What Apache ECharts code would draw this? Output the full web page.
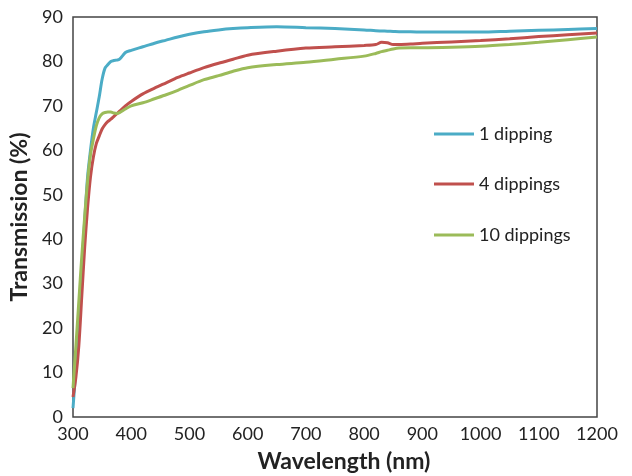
<!DOCTYPE html>
<html>
<head>
<meta charset="utf-8">
<script src="https://cdn.jsdelivr.net/npm/echarts@6/dist/echarts.min.js"></script>
<style>html,body{margin:0;padding:0;background:#fff}#c{width:632px;height:476px}</style>
</head>
<body>
<div id="c"></div>
<script>
var wavelengths = [300,305,310,315,320,325,330,335,340,345,350,355,360,365,370,375,380,390,400,420,440,460,480,500,525,550,575,600,650,700,750,800,820,830,840,850,860,880,900,950,1000,1050,1100,1150,1200];
var dip1 = [2,11,22,33,44,54,60,65,68.5,72,76,78.5,79.3,80,80.2,80.3,80.5,82,82.5,83.3,84.1,84.8,85.5,86.1,86.7,87.1,87.4,87.6,87.8,87.6,87.4,87.1,86.9,86.85,86.8,86.75,86.7,86.7,86.6,86.6,86.6,86.8,87.0,87.2,87.4];
var dip4 = [4.5,9,16,27,38,47,54,58.5,61.5,63.2,64.8,65.8,66.5,67,67.6,68.2,68.8,70,71,72.7,74,75.2,76.4,77.4,78.6,79.6,80.5,81.4,82.3,83,83.3,83.6,83.8,84.3,84.2,83.8,83.8,83.9,84.1,84.4,84.7,85.1,85.6,86.0,86.4];
var dip10 = [6.5,16,26,36,45,53,59,62.5,65.5,67.3,68.2,68.5,68.6,68.6,68.4,68.3,68.5,69.3,70,70.7,71.6,72.5,73.5,74.6,75.9,76.8,77.8,78.6,79.3,79.8,80.5,81.2,81.8,82.2,82.5,82.8,83.0,83.1,83.1,83.2,83.4,83.8,84.3,84.9,85.5];
var seriesNames = ['1 dipping','4 dippings','10 dippings'];
var colors = ['#4BACC6','#C0504D','#9BBB59'];
var xTitle = 'Wavelength (nm)';
var yTitle = 'Transmission (%)';

function pairs(vals){ return wavelengths.map(function(w,i){ return [w, vals[i]]; }); }
var allVals = [dip1, dip4, dip10];
var font = 'Lato';
var chart = echarts.init(document.getElementById('c'), null, {renderer:'canvas'});
var legendTops = [120, 170, 221];
chart.setOption({
  animation:false,
  backgroundColor:'#fff',
  grid:{left:73, right:35, top:17, bottom:59, show:true, borderColor:'#444', borderWidth:1.5, backgroundColor:'transparent', outerBoundsMode:'none', containLabel:false},
  legend: seriesNames.map(function(n,i){
    return {data:[n], left:429, top:legendTops[i], orient:'vertical', icon:'rect', itemWidth:40, itemHeight:3, itemGap:4,
      textStyle:{fontFamily:font, fontSize:18, color:'#222'}};
  }),
  xAxis:{type:'value', min:300, max:1200, interval:100,
    axisLine:{show:false}, axisTick:{show:false}, splitLine:{show:false},
    axisLabel:{fontFamily:font, fontSize:18, color:'#222', margin:8, formatter:function(v){return String(v);}},
    name:xTitle, nameLocation:'middle', nameGap:33,
    nameTextStyle:{fontFamily:font, fontSize:23, fontWeight:'bold', color:'#222', padding:[0,0,0,18]}},
  yAxis:{type:'value', min:0, max:90, interval:10,
    axisLine:{show:false}, axisTick:{show:false}, splitLine:{show:false},
    axisLabel:{fontFamily:font, fontSize:18, color:'#222', margin:10},
    name:yTitle, nameLocation:'middle', nameGap:37,
    nameTextStyle:{fontFamily:font, fontSize:23, fontWeight:'bold', color:'#222'}},
  series: seriesNames.map(function(n,i){
    return {name:n, type:'line', data:pairs(allVals[i]), showSymbol:false, symbol:'none', smooth:0.3,
      lineStyle:{color:colors[i], width:3}, itemStyle:{color:colors[i]}};
  })
});
</script>
</body>
</html>
